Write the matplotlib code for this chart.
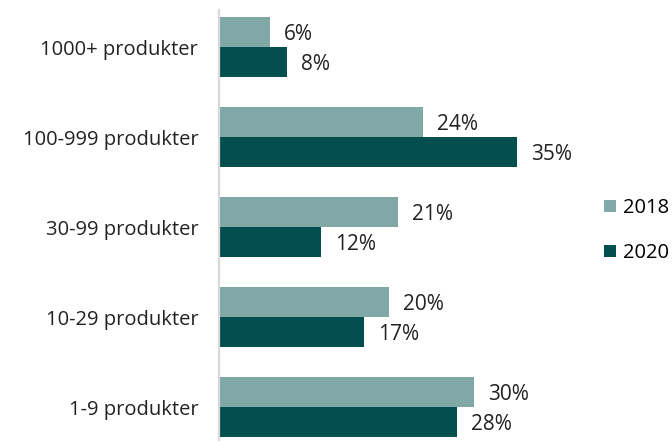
import matplotlib.pyplot as plt
import numpy as np

LIGHT, DARK, AXIS = "#7fa8a6", "#034f50", "#d9d9d9"

categories = ["1000+ produkter", "100-999 produkter", "30-99 produkter", "10-29 produkter", "1-9 produkter"]
share_2018 = [6, 24, 21, 20, 30]
share_2020 = [8, 35, 12, 17, 28]
series_labels = ["2018", "2020"]

plt.rcParams["font.family"] = ["Open Sans", "DejaVu Sans"]

fig = plt.figure(figsize=(6.72, 4.46), dpi=100)
# axes placed in pixel terms: left edge at x=219, top at y=10, bottom at y=440
W, H = 672, 446
ax = fig.add_axes([219 / W, (H - 440) / H, (660 - 219) / W, 430 / H])

y = np.arange(len(categories))
h = 1 / 3
b1 = ax.barh(y - h / 2, share_2018, height=h, color=LIGHT, label=series_labels[0])
b2 = ax.barh(y + h / 2, share_2020, height=h, color=DARK, label=series_labels[1])

for bars, vals in [(b1, share_2018), (b2, share_2020)]:
    for bar, v in zip(bars, vals):
        ax.annotate(f"{v}%", (bar.get_width(), bar.get_y() + bar.get_height() / 2),
                    xytext=(14, -3), textcoords="offset pixels", va="center", ha="left",
                    fontsize=15, color="#222222")

ax.set_xlim(0, 441 / 8.51)
ax.set_ylim((440 - 47) / 90, (10 - 47) / 90)
ax.set_yticks(y)
ax.set_yticklabels(categories, fontsize=14.5, color="#222222")
ax.tick_params(axis="y", length=0, pad=15)
ax.set_xticks([])
for s in ["top", "right", "bottom"]:
    ax.spines[s].set_visible(False)
ax.spines["left"].set_color(AXIS)
ax.spines["left"].set_linewidth(1.6)

fig.legend(handles=[b1, b2], labels=series_labels, loc="upper left",
           bbox_to_anchor=(600 / W, 1 - 194 / H), frameon=False, fontsize=14.5,
           handlelength=0.6, handleheight=0.6, handletextpad=0.35, labelspacing=1.25,
           borderpad=0.2, borderaxespad=0)

fig.savefig("out.png", dpi=100)
